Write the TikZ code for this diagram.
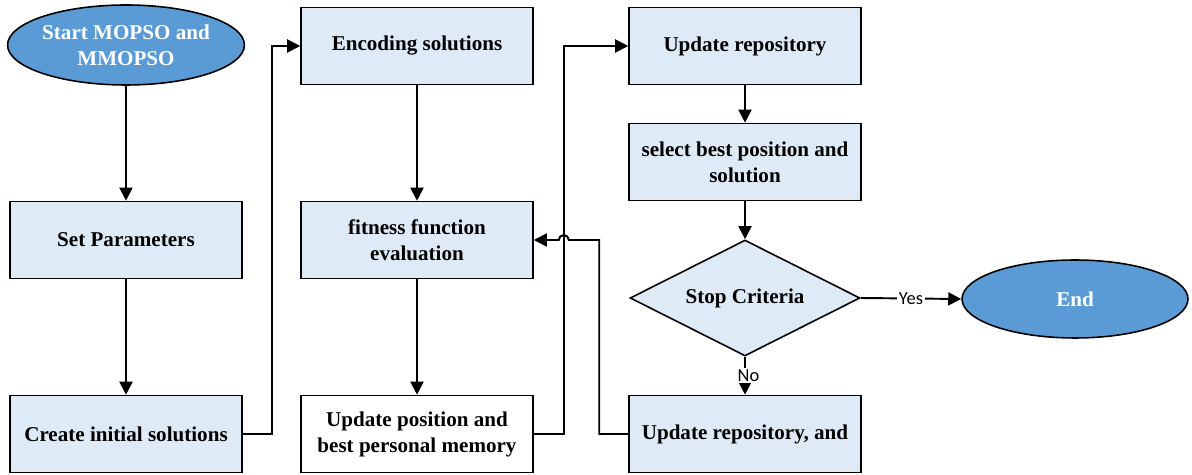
\documentclass[tikz,border=0pt]{standalone}
\usepackage{fontspec}
\setmainfont{Liberation Serif}
\newfontfamily\labelfont{Carlito}
\usepackage{xcolor}
\usepackage{tikz}
\usetikzlibrary{shapes.geometric,arrows.meta,calc}
\definecolor{boxfill}{HTML}{DEEBF7}
\definecolor{ovalfill}{HTML}{5B9BD5}

\begin{document}
\begin{tikzpicture}[x=0.02cm,y=0.02cm,
    proc/.style={draw,line width=0.9pt,fill=boxfill,minimum width=4.64cm,minimum height=1.54cm,
        align=center,font=\fontsize{12}{14.8}\selectfont\bfseries},
    oval/.style={draw,ellipse,line width=0.9pt,fill=ovalfill,text=white,inner sep=0pt,
        align=center,font=\fontsize{12}{14.8}\selectfont\bfseries},
    check/.style={draw,diamond,aspect=2,line width=0.9pt,fill=boxfill,minimum width=4.6cm,minimum height=2.32cm,
        inner sep=0pt,font=\fontsize{12}{14.8}\selectfont\bfseries},
    arr/.style={-{Triangle[length=0.26cm,width=0.26cm]},line width=1.1pt},
    yn/.style={fill=white,inner sep=1pt,font=\labelfont\fontsize{10.5}{12}\selectfont}]
    \useasboundingbox (0,0) rectangle (1192,-475);
    % Column 1
    \node[oval,minimum width=4.64cm,minimum height=1.6cm] (start) at (126,-45) {Start MOPSO and\\MMOPSO};
    \node[proc] (param) at (126,-240) {Set Parameters};
    \node[proc] (init) at (126,-434) {Create initial solutions};
    % Column 2
    \node[proc] (enc) at (417,-46) {Encoding solutions};
    \node[proc] (fit) at (417,-240) {fitness function\\evaluation};
    \node[proc,fill=white] (pos) at (417,-434) {Update position and\\best personal memory};
    % Column 3
    \node[proc] (rep) at (745,-46) {Update repository};
    \node[proc] (best) at (745,-162) {select best position and\\solution};
    \node[check] (stop) at (745,-298) {Stop Criteria};
    \node[proc] (rep2) at (745,-434) {Update repository, and};
    \node[oval,minimum width=4.52cm,minimum height=1.56cm] (end) at (1075,-299) {End};
    % Connectors
    \draw[arr] (start) -- (param);
    \draw[arr] (param) -- (init);
    \draw[arr] (init.east) -- ++(29,0) |- (enc.west); % up to encoding
    \draw[arr] (enc) -- (fit);
    \draw[arr] (fit) -- (pos);
    \draw[arr] (pos.east) -- ++(30,0) coordinate (jog) |- (rep.west); % up to repository
    \draw[arr] (rep) -- (best);
    \draw[arr] (best) -- (stop);
    \draw[arr] (stop.east) -- node[yn] {Yes} (end.west);
    \draw[arr] (stop.south) -- node[yn,xshift=2pt] {No} (rep2.north);
    \draw[arr] (rep2.west) -- ++(-29,0) |- ($(fit.east -| jog)+(5,0)$)
        arc[start angle=0,end angle=180,radius=0.1cm] -- (fit.east); % back to fitness, hop over
\end{tikzpicture}
\end{document}
